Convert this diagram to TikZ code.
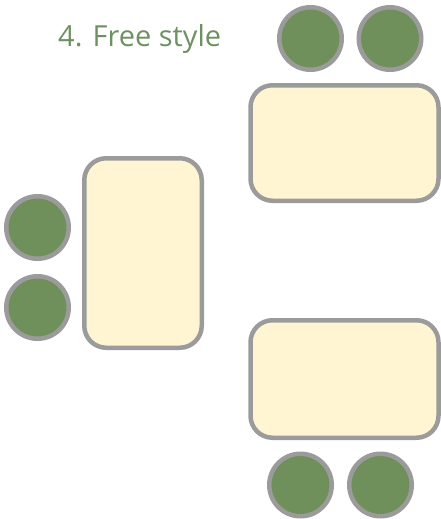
\documentclass[tikz,border=0pt]{standalone}
\usepackage{fontspec}
\setmainfont{Open Sans}
\begin{document}
\begin{tikzpicture}[x=1pt,y=-1pt,
  seat/.style={circle,draw=edgegray,fill=seatgreen,line width=4.5pt,minimum size=62.5pt,inner sep=0pt},
  table/.style={rectangle,rounded corners=22pt,draw=edgegray,fill=tablecream,line width=4.5pt,inner sep=0pt}]
\definecolor{edgegray}{HTML}{9B9B9B}
\definecolor{seatgreen}{HTML}{6F8F5B}
\definecolor{tablecream}{HTML}{FFF5D2}
\definecolor{titlegreen}{HTML}{6E9161}
\useasboundingbox (0,0) rectangle (441,519);
\node[text=titlegreen,font=\fontsize{29}{34}\selectfont,anchor=base west,inner sep=0pt] (title) at (58,47) {4. Free style};
\node[seat] (s1) at (310.5,38.5) {};
\node[seat] (s2) at (390,38.5) {};
\node[table,minimum width=188pt,minimum height=115.5pt] (t1) at (344.5,143) {};
\node[seat] (s3) at (37.5,227.5) {};
\node[seat] (s4) at (37.5,307.5) {};
\node[table,minimum width=117.5pt,minimum height=189.5pt] (t2) at (143,253) {};
\node[table,minimum width=188pt,minimum height=117.5pt] (t3) at (344.5,379) {};
\node[seat] (s5) at (300.5,485) {};
\node[seat] (s6) at (380.5,485) {};
\end{tikzpicture}
\end{document}
